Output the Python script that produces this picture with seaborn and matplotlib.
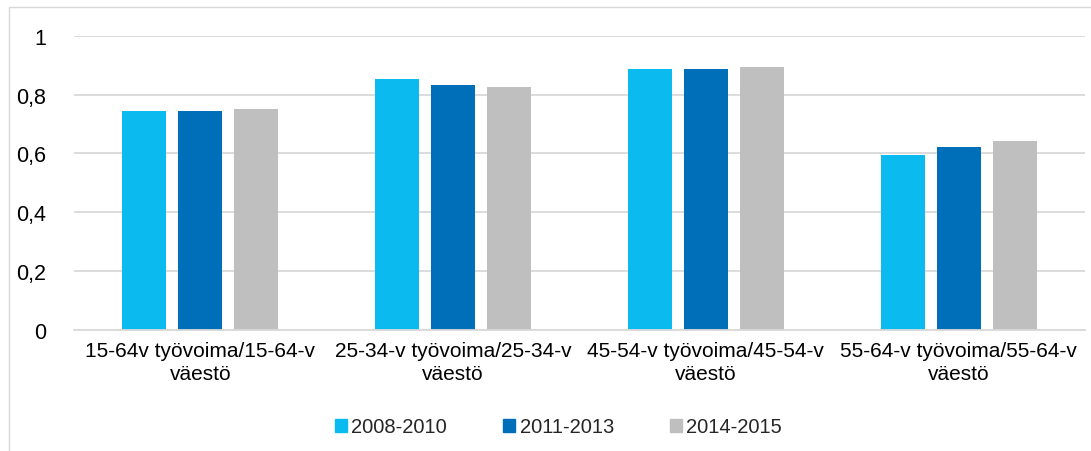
import pandas as pd
import matplotlib.pyplot as plt
import matplotlib.patches as mpatches
import seaborn as sns

# Chart data
categories = [
    "15-64v työvoima/15-64-v\nväestö",
    "25-34-v työvoima/25-34-v\nväestö",
    "45-54-v työvoima/45-54-v\nväestö",
    "55-64-v työvoima/55-64-v\nväestö",
]
periods = ["2008-2010", "2011-2013", "2014-2015"]
vals_2008_2010 = [0.744, 0.853, 0.887, 0.595]
vals_2011_2013 = [0.744, 0.832, 0.887, 0.622]
vals_2014_2015 = [0.751, 0.826, 0.894, 0.642]
yticks = [0, 0.2, 0.4, 0.6, 0.8, 1]
ytick_labels = ["0", "0,2", "0,4", "0,6", "0,8", "1"]

PALETTE = {"2008-2010": "#0BBBEF", "2011-2013": "#006FBA", "2014-2015": "#BFBFBF"}

df = pd.DataFrame({
    "category": categories * 3,
    "period": [p for p in periods for _ in categories],
    "value": vals_2008_2010 + vals_2011_2013 + vals_2014_2015,
})

sns.set_theme(style="white")
plt.rcParams["font.family"] = ["Liberation Sans", "DejaVu Sans"]

fig = plt.figure(figsize=(10.91, 4.52), dpi=100)
ax = fig.add_axes([74 / 1091, 1 - 331 / 452, 1011 / 1091, (331 - 36.7) / 452])

sns.barplot(
    data=df, x="category", y="value", hue="period", hue_order=periods,
    palette=PALETTE, width=0.665, gap=0.214, saturation=1, ax=ax,
    edgecolor="none", legend=False,
)

ax.set_ylim(0, 1)
ax.set_xlim(-0.5, 3.5)
ax.set_yticks(yticks)
ax.set_yticklabels(ytick_labels)
ax.yaxis.grid(True, color="#D9D9D9", linewidth=1.3)
ax.set_axisbelow(True)
for side in ["top", "right", "left"]:
    ax.spines[side].set_visible(False)
ax.spines["bottom"].set_color("#D9D9D9")
ax.spines["bottom"].set_linewidth(1.3)
ax.tick_params(axis="y", length=0, pad=20, labelsize=15.5, labelcolor="#000000")
ax.tick_params(axis="x", length=0, pad=8, labelsize=15, labelcolor="#000000")
for lbl in ax.get_xticklabels():
    lbl.set_linespacing(1.25)
ax.set_xlabel("")
ax.set_ylabel("")

handles = [mpatches.Patch(color=PALETTE[p], label=p) for p in periods]
fig.legend(
    handles=handles, loc="center", bbox_to_anchor=(0.512, 1 - 428 / 452),
    ncol=3, frameon=False, fontsize=14.5, handlelength=0.6, handleheight=0.6,
    handletextpad=0.2, columnspacing=2.8,
)

# Outer chart border
fig.patches.append(mpatches.Rectangle(
    (9 / 1091, -0.05), 1.1, 1 - 8 / 452 + 0.05, transform=fig.transFigure,
    fill=False, edgecolor="#D9D9D9", linewidth=1.0,
))

fig.savefig("out.png", dpi=100)
